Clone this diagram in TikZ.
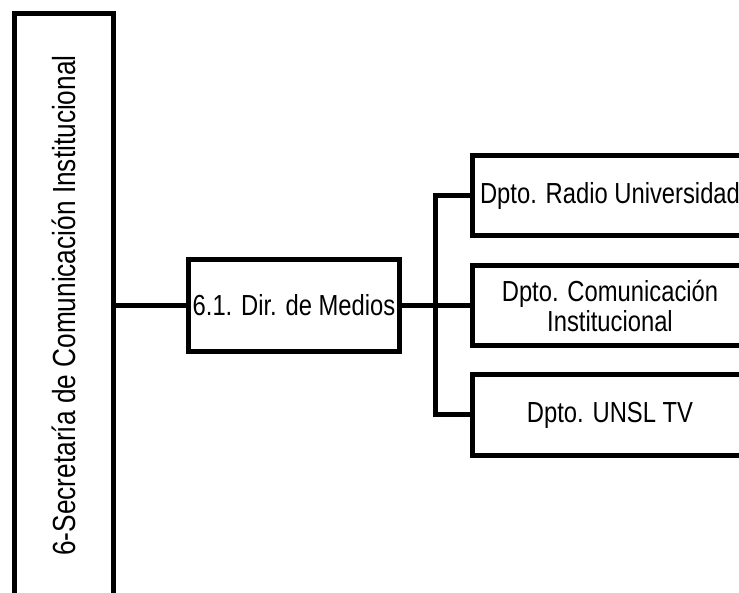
\documentclass[tikz,border=0pt]{standalone}
\usepackage{fontspec}
\setmainfont{Liberation Sans}[FakeStretch=0.82]
\usepackage{tikz}
\usetikzlibrary{positioning, calc}

\begin{document}
\begin{tikzpicture}[x=1pt, y=-1pt, line width=5pt, node distance=29.5pt, every node/.style={font=\fontsize{29}{30}\selectfont}, unit/.style={draw, rectangle, outer sep=0pt, inner sep=2pt, align=center}, dpto/.style={unit, minimum width=276pt, minimum height=80pt}]
\useasboundingbox (0,0) rectangle (739,593);
\node[unit, minimum width=99pt, minimum height=584pt] (sec) at (64,305.5) {\fontsize{32}{34}\selectfont\rotatebox{90}{6-Secretaría de Comunicación Institucional}};
\node[unit, minimum width=211pt, minimum height=92pt, right=75pt of sec] (dir) {6.1. Dir. de Medios};
\node[dpto, right=72.5pt of dir] (com) {Dpto. Comunicación\\Institucional};
\node[dpto, above=of com] (radio) {Dpto. Radio Universidad};
\node[dpto, below=of com] (unsl) {Dpto. UNSL TV};
\coordinate (bus) at ($(dir.east)!0.5!(com.west)$);
\draw (sec) -- (dir);
\draw (dir) -- (com);
\draw (radio.west) -| (bus) |- (unsl.west);
\end{tikzpicture}
\end{document}
